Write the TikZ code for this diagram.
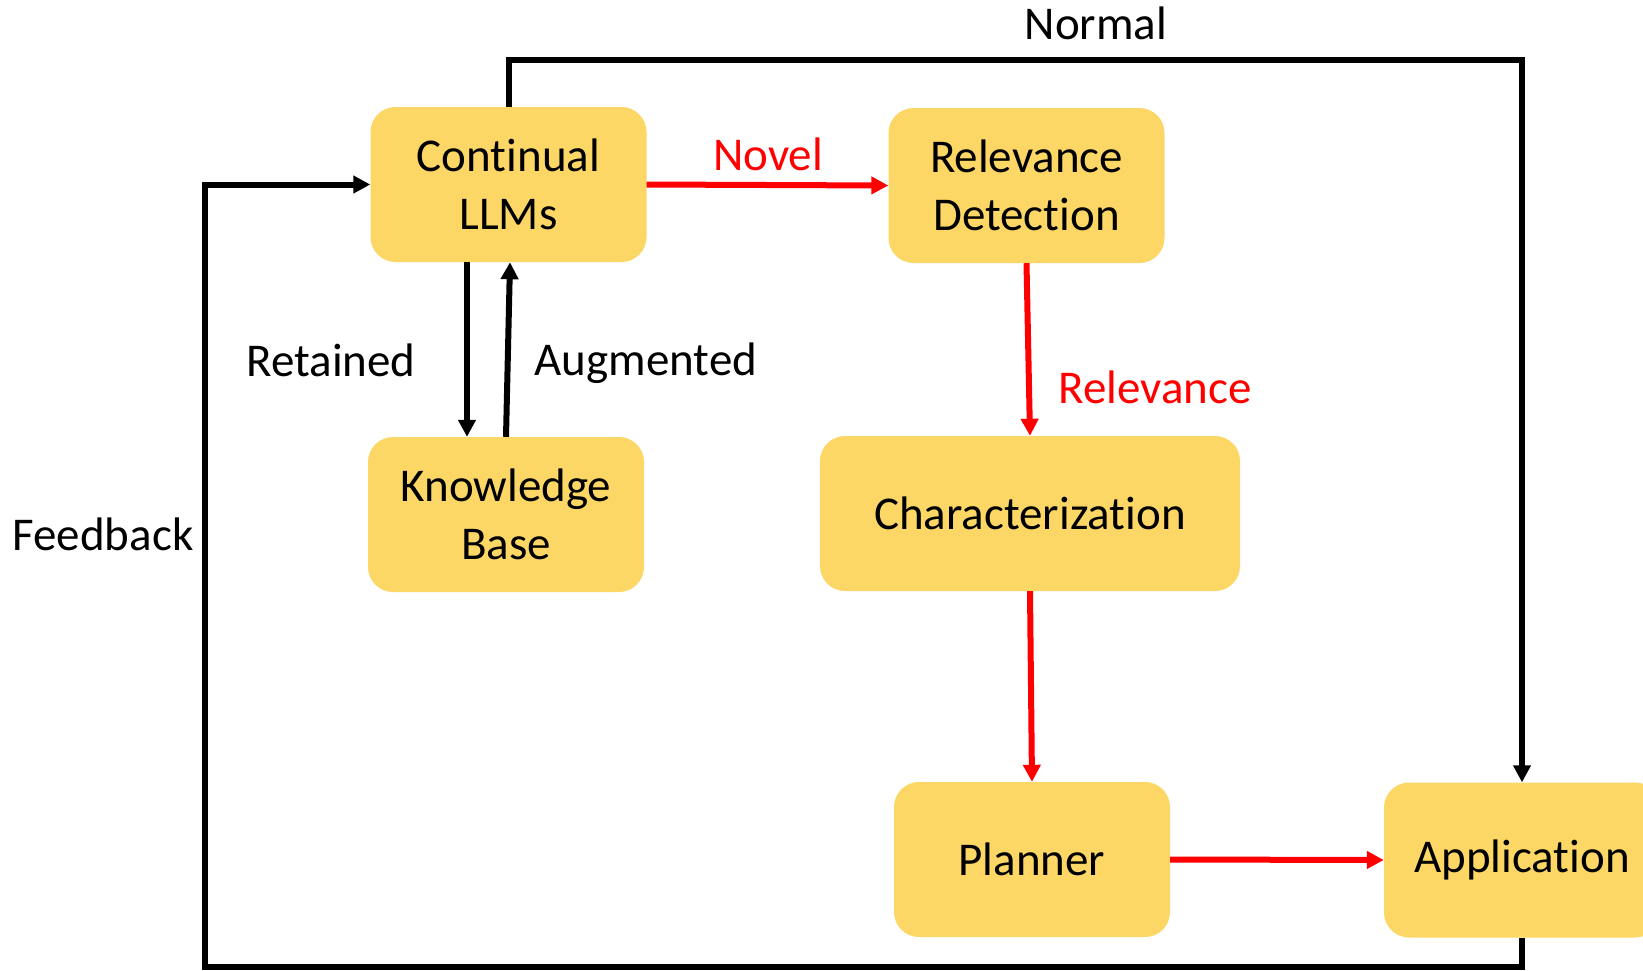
\documentclass[tikz,border=0pt]{standalone}
\usepackage{fontspec}
\setmainfont{Carlito}[Ligatures={NoCommon,NoRare,NoContextual}]
\usetikzlibrary{arrows.meta}
\definecolor{boxfill}{HTML}{FDD766}
\definecolor{myred}{HTML}{FF0000}
\tikzset{
  box/.style={rectangle, rounded corners=25pt, fill=boxfill, draw=none,
    minimum width=276pt, minimum height=155pt, inner sep=0pt, align=center,
    font=\fontsize{47}{57.6}\selectfont},
  lbl/.style={inner sep=0pt, font=\fontsize{47}{57.6}\selectfont},
  conn/.style={line width=6pt, -{Triangle[length=17pt,width=17pt]}},
  redconn/.style={conn, draw=myred},
}
\begin{document}
\begin{tikzpicture}[x=1pt,y=-1pt]
\clip (0,0) rectangle (1643,970);
\fill[white] (0,0) rectangle (1643,970);
\node[box] (cl) at (508.5,184.5) {Continual\\LLMs};
\node[box] (rd) at (1026.5,185.5) {Relevance\\Detection};
\node[box] (kb) at (506,514.5) {Knowledge\\Base};
\node[box, minimum width=420pt] (ch) at (1030,513.5) {Characterization};
\node[box] (pl) at (1032,859.5) {Planner};
\node[box] (ap) at (1522,860) {Application};
\coordinate (ntop) at (0,60);
\coordinate (fb) at (205,967);
% connectors
\draw[conn] (cl.north) -- (cl.north |- ntop) -| (ap.north);
\draw[conn] (ap.south) -- (ap.south |- fb) -| (fb |- cl.west) -- (cl.west);
\draw[redconn] (cl.east) -- (rd.west);
\draw[conn] ([xshift=-41.5pt]cl.south) -- ([xshift=-41.5pt]cl.south |- kb.north);
\draw[conn] (kb.north) -- ([xshift=1.5pt]cl.south);
\draw[redconn] (rd.south) -- (ch.north);
\draw[redconn] (ch.south) -- (pl.north);
\draw[redconn] (pl.east) -- (ap.west);
% labels
\node[lbl] (lnormal) at (1096,23) {Normal};
\node[lbl, text=myred] (lnovel) at (768,154) {Novel};
\node[lbl, text=myred] (lrel) at (1155,387) {Relevance};
\node[lbl] (lret) at (331,360) {Retained};
\node[lbl] (laug) at (646,363) {Augmented};
\node[lbl] (lfb) at (103,534) {Feedback};
\end{tikzpicture}
\end{document}
